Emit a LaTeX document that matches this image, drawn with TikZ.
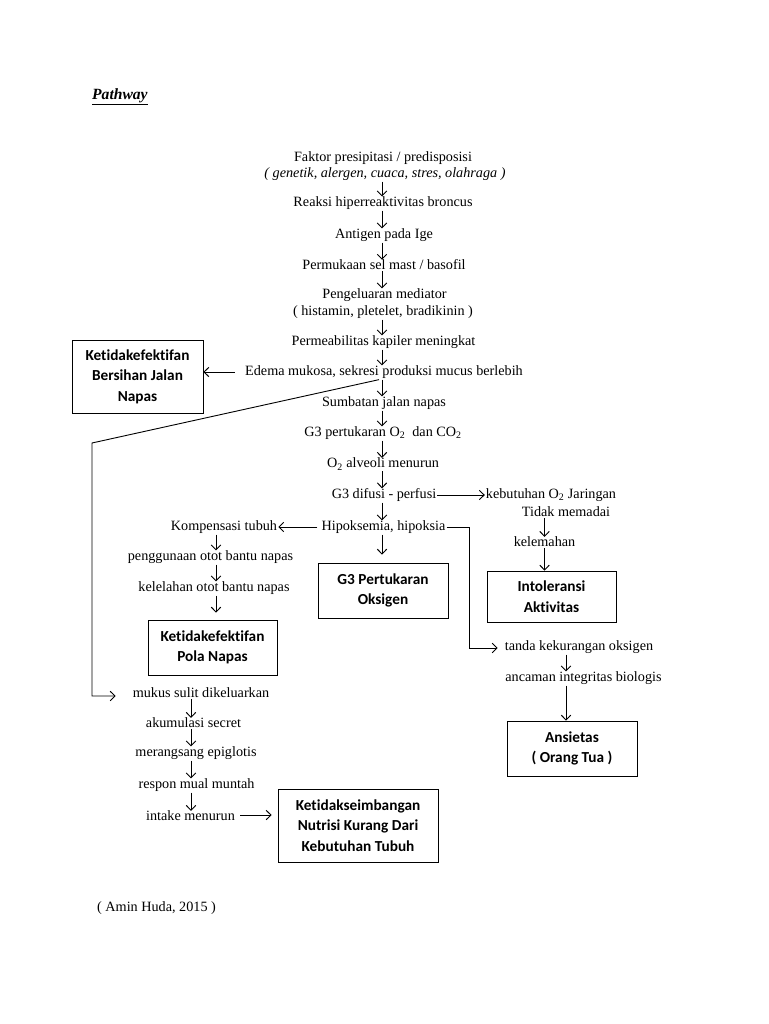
\documentclass[tikz,border=0pt]{standalone}
\usepackage{fontspec}
\setmainfont{Liberation Serif}
\newfontfamily\boxfont{Carlito}[Ligatures={NoCommon,NoRequired,NoContextual}]
\usetikzlibrary{arrows.meta,calc}
\begin{document}
\begin{tikzpicture}[x=1pt,y=-1pt,
 txt/.style={font=\fontsize{14.2}{16}\selectfont, inner sep=1pt},
 bx/.style={draw, line width=0.9pt, font=\boxfont\bfseries\fontsize{15.3}{20.5}\selectfont, align=center, inner sep=0pt},
 arr/.style={-{Straight Barb[length=4.8pt,width=9.5pt]}, line width=0.9pt},
 vd/.style={arr, shorten >=-1pt},
 ln/.style={line width=0.9pt}]
\useasboundingbox (0,0) rectangle (768,1024);
\fill[white] (0,0) rectangle (768,1024);

% title
\node[txt, anchor=west, font=\fontsize{15.6}{17}\selectfont] (title) at (91,97) {\underline{\textbf{\textit{Pathway}}}};

% column coordinates
\coordinate (cx) at (382,0);
\coordinate (lx) at (191,0);
\coordinate (kx) at (216,0);
\coordinate (rx) at (566,0);

% center column
\node[txt] (f1) at (383,158) {Faktor presipitasi / predisposisi};
\node[txt] (f2) at (385,174) {\textit{( genetik, alergen, cuaca, stres, olahraga )}};
\node[txt] (reaksi) at (383,203) {Reaksi hiperreaktivitas broncus};
\node[txt] (antigen) at (384,235) {Antigen pada Ige};
\node[txt] (permukaan) at (384,265) {Permukaan sel mast / basofil};
\node[txt] (peng1) at (384.5,295) {Pengeluaran mediator};
\node[txt] (peng2) at (383,312) {( histamin, pletelet, bradikinin )};
\node[txt] (perm) at (383.5,342) {Permeabilitas kapiler meningkat};
\node[txt] (edema) at (384,372) {Edema mukosa, sekresi produksi mucus berlebih};
\node[txt] (sumbatan) at (384,403) {Sumbatan jalan napas};
\node[txt] (g3p) at (383,433) {G3 pertukaran O\textsubscript{2}~ dan CO\textsubscript{2}};
\node[txt] (o2) at (383,464) {O\textsubscript{2} alveoli menurun};
\node[txt] (difusi) at (384,495) {G3 difusi - perfusi};
\node[txt] (hipo) at (383.5,527) {Hipoksemia, hipoksia};

% right branch
\node[txt] (keb) at (551,495) {kebutuhan O\textsubscript{2} Jaringan};
\node[txt] (tidak) at (566,512) {Tidak memadai};
\node[txt] (kel) at (544.5,542) {kelemahan};
\node[txt] (tanda) at (579,647) {tanda kekurangan oksigen};
\node[txt] (ancaman) at (583.5,678) {ancaman integritas biologis};

% left branch
\node[txt] (komp) at (224,527) {Kompensasi tubuh};
\node[txt] (pengg) at (210.5,557) {penggunaan otot bantu napas};
\node[txt] (lelah) at (214,588) {kelelahan otot bantu napas};

% bottom-left chain
\node[txt] (mukus) at (201,693) {mukus sulit dikeluarkan};
\node[txt] (akum) at (193.5,723) {akumulasi secret};
\node[txt] (meran) at (196,753) {merangsang epiglotis};
\node[txt] (respon) at (196.5,785) {respon mual muntah};
\node[txt] (intake) at (190.5,816) {intake menurun};

% citation
\node[txt, anchor=west] (cite) at (96,908) {( Amin Huda, 2015 )};

% boxes
\node[bx, minimum width=131pt, minimum height=73pt] (bersihan) at (137.5,376.5) {Ketidakefektifan\\Bersihan Jalan\\Napas};
\node[bx, minimum width=130pt, minimum height=55pt] (g3box) at (383,590.5) {G3 Pertukaran\\Oksigen};
\node[bx, minimum width=129pt, minimum height=51pt] (into) at (551.5,596.5) {Intoleransi\\Aktivitas};
\node[bx, minimum width=129pt, minimum height=55pt] (pola) at (212.5,647.5) {Ketidakefektifan\\Pola Napas};
\node[bx, minimum width=130pt, minimum height=55pt] (ansietas) at (572,748.5) {Ansietas\\( Orang Tua )};
\node[bx, minimum width=160pt, minimum height=73pt] (nutrisi) at (358,825.5) {Ketidakseimbangan\\Nutrisi Kurang Dari\\Kebutuhan Tubuh};

% center arrows
\draw[vd] (f2.south -| cx) -- (reaksi.north -| cx);
\draw[vd] (reaksi.south -| cx) -- (antigen.north -| cx);
\draw[vd] (antigen.south -| cx) -- (permukaan.north -| cx);
\draw[vd] (permukaan.south -| cx) -- (peng1.north -| cx);
\draw[vd] (peng2.south -| cx) -- (perm.north -| cx);
\draw[vd] (perm.south -| cx) -- (edema.north -| cx);
\draw[vd] (edema.south -| cx) -- (sumbatan.north -| cx);
\draw[vd] (sumbatan.south -| cx) -- (g3p.north -| cx);
\draw[vd] (g3p.south -| cx) -- (o2.north -| cx);
\draw[vd] (o2.south -| cx) -- (difusi.north -| cx);
\draw[vd] (difusi.south -| cx) -- (hipo.north -| cx);
\draw[arr, shorten >=8pt] (hipo.south -| cx) -- (g3box.north -| cx);

% edema -> bersihan
\draw[arr, shorten <=9pt] (edema.west) -- (edema.west -| bersihan.east);

% diagonal to mukus
\coordinate (cL1) at (92,443);
\coordinate (cL2) at (92,696);
\draw[arr, shorten >=16pt] ([xshift=-3pt]edema.south -| cx) -- (cL1) -- (cL2) -- (cL2 -| mukus.west);

% right branch arrows
\draw[arr] (difusi.east) -- (keb.west);
\draw[vd] (tidak.south -| kel.north) -- (kel.north);
\draw[arr] (kel.south) -- (kel.south |- into.north);
\coordinate (cR) at (469,648);
\draw[arr, shorten >=6pt] (hipo.east) -- (hipo.east -| cR) -- (cR) -- (cR -| tanda.west);
\draw[vd] (tanda.south -| rx) -- (ancaman.north -| rx);
\draw[arr] (ancaman.south -| rx) -- (ansietas.north -| rx);

% left branch arrows
\draw[arr, shorten <=3pt] (hipo.west) -- (komp.east);
\draw[vd] (komp.south -| kx) -- (pengg.north -| kx);
\draw[vd] (pengg.south -| kx) -- (lelah.north -| kx);
\draw[arr, shorten >=7pt] (lelah.south -| kx) -- (pola.north -| kx);

% bottom chain arrows
\draw[vd] (mukus.south -| lx) -- (akum.north -| lx);
\draw[vd] (akum.south -| lx) -- (meran.north -| lx);
\draw[vd] (meran.south -| lx) -- (respon.north -| lx);
\draw[vd] (respon.south -| lx) -- (intake.north -| lx);
\draw[arr, shorten <=4pt, shorten >=6pt] ([yshift=1pt]intake.east) -- ([yshift=1pt]intake.east -| nutrisi.west);
\end{tikzpicture}
\end{document}
